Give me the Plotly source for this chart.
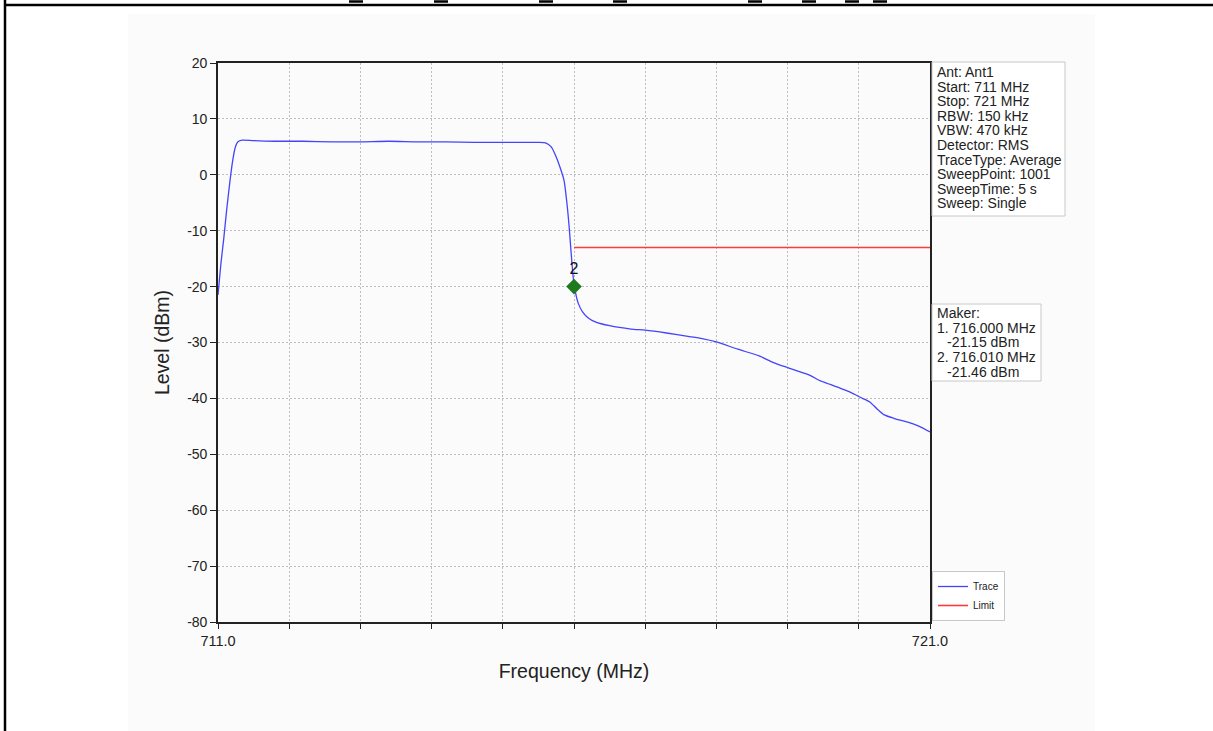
import plotly.graph_objects as go

# ---- data ----
trace_freq = [711.00, 711.04, 711.08, 711.12, 711.16, 711.20, 711.24, 711.28, 711.34,
              711.5, 711.8, 712.2, 712.6, 713.0, 713.4, 713.8, 714.2, 714.6, 715.0,
              715.3, 715.5, 715.6, 715.68, 715.74, 715.80, 715.86, 715.90, 715.93,
              715.96, 715.99, 716.02, 716.06, 716.12, 716.20, 716.30, 716.50, 716.80,
              717.00, 717.30, 717.60, 717.80, 718.00, 718.30, 718.60, 718.80, 719.00,
              719.30, 719.45, 719.60, 719.90, 720.02, 720.15, 720.25, 720.35, 720.50,
              720.58, 720.70, 720.85, 721.00]
trace_level = [-21.5, -16.0, -11.5, -6.5, -2.0, 2.0, 4.8, 5.9, 6.2,
               6.1, 6.0, 6.0, 5.9, 5.9, 6.0, 5.9, 5.9, 5.8, 5.8,
               5.8, 5.8, 5.7, 5.0, 3.5, 1.5, -1.0, -5.0, -9.0,
               -14.0, -18.5, -21.0, -23.0, -24.5, -25.6, -26.3, -27.0, -27.6,
               -27.8, -28.3, -28.9, -29.3, -29.9, -31.2, -32.4, -33.6, -34.5,
               -35.8, -36.8, -37.5, -39.0, -39.8, -40.6, -41.8, -42.9, -43.6,
               -43.9, -44.3, -45.0, -46.0]

limit_freq = [716.0, 721.0]
limit_level = [-13.0, -13.0]

marker_freq = [716.0]
marker_level = [-20.0]
marker_label = ["2"]

y_ticks = [20, 10, 0, -10, -20, -30, -40, -50, -60, -70, -80]
y_tick_text = ["20", "10", "0", "-10", "-20", "-30", "-40", "-50", "-60", "-70", "-80"]
x_ticks = [711, 712, 713, 714, 715, 716, 717, 718, 719, 720, 721]
x_tick_text = ["711.0", "", "", "", "", "", "", "", "", "", "721.0"]

info_lines = ["Ant: Ant1", "Start: 711 MHz", "Stop: 721 MHz", "RBW: 150 kHz",
              "VBW: 470 kHz", "Detector: RMS", "TraceType: Average",
              "SweepPoint: 1001", "SweepTime: 5 s", "Sweep: Single"]
marker_lines = ["Maker:", "1. 716.000 MHz", "-21.15 dBm",
                "2. 716.010 MHz", "-21.46 dBm"]
marker_indent = [0, 0, 1, 0, 1]

FONT = "Liberation Sans, Arial, sans-serif"

W, H = 1213, 731
L, R, T, B = 218, 930, 63, 622


def px(xp):
    return (xp - L) / (R - L)


def py(yp):
    return (B - yp) / (B - T)


fig = go.Figure()
fig.add_trace(go.Scatter(x=trace_freq, y=trace_level, mode="lines", name="Trace",
                         line=dict(color="#4444fa", width=1.3, shape="spline", smoothing=0.6)))
fig.add_trace(go.Scatter(x=limit_freq, y=limit_level, mode="lines", name="Limit",
                         line=dict(color="#ff3a3a", width=1.6)))
fig.add_trace(go.Scatter(x=marker_freq, y=marker_level, mode="markers+text",
                         text=marker_label, textposition="top center",
                         textfont=dict(family=FONT, size=16, color="#111"),
                         marker=dict(symbol="diamond", size=12, color="#1f7a1f"),
                         showlegend=False, cliponaxis=False))

shapes = []
# faint background panel of the original picture
shapes.append(dict(type="rect", xref="paper", yref="paper",
                   x0=px(128), x1=px(1095), y0=py(731), y1=py(14),
                   fillcolor="#fbfbfb", line=dict(width=0), layer="below"))
# page frame lines
shapes.append(dict(type="line", xref="paper", yref="paper",
                   x0=px(4), x1=px(1213), y0=py(5), y1=py(5),
                   line=dict(color="black", width=2.5)))
shapes.append(dict(type="line", xref="paper", yref="paper",
                   x0=px(5), x1=px(5), y0=py(0), y1=py(731),
                   line=dict(color="black", width=2.5)))
# clipped title underscores at very top
for xc in [356, 441, 546, 620, 755, 809, 852, 880]:
    shapes.append(dict(type="line", xref="paper", yref="paper",
                       x0=px(xc - 7), x1=px(xc + 7), y0=py(1.5), y1=py(1.5),
                       line=dict(color="black", width=2.5)))
# info boxes
shapes.append(dict(type="rect", xref="paper", yref="paper",
                   x0=px(932), x1=px(1065), y0=py(216), y1=py(62),
                   fillcolor="white", line=dict(color="#c8c8c8", width=1)))
shapes.append(dict(type="rect", xref="paper", yref="paper",
                   x0=px(932), x1=px(1041), y0=py(381), y1=py(304),
                   fillcolor="white", line=dict(color="#c8c8c8", width=1)))

annotations = []
for i, line in enumerate(info_lines):
    annotations.append(dict(xref="paper", yref="paper", x=px(935), y=py(72 + i * 14.6),
                            xanchor="left", yanchor="middle", showarrow=False, text=line,
                            font=dict(family=FONT, size=14, color="#222")))
for i, line in enumerate(marker_lines):
    annotations.append(dict(xref="paper", yref="paper",
                            x=px(935 + 10 * marker_indent[i]), y=py(313 + i * 14.7),
                            xanchor="left", yanchor="middle", showarrow=False, text=line,
                            font=dict(family=FONT, size=14, color="#222")))

fig.update_layout(
    width=W, height=H,
    margin=dict(l=L, r=W - R, t=T, b=H - B),
    paper_bgcolor="white", plot_bgcolor="white",
    font=dict(family=FONT, color="#222"),
    shapes=shapes, annotations=annotations,
    legend=dict(x=px(932), y=py(621), xanchor="left", yanchor="bottom",
                bordercolor="#c8c8c8", borderwidth=1, bgcolor="white",
                font=dict(family=FONT, size=10, color="#222"),
                itemwidth=30, tracegroupgap=0),
    showlegend=True,
)
fig.update_xaxes(range=[711, 721], tickmode="array", tickvals=x_ticks, ticktext=x_tick_text,
                 showgrid=True, gridcolor="#bdbdbd", griddash="2px,2px", gridwidth=1,
                 showline=True, linecolor="#222", linewidth=1.6, mirror=True,
                 ticks="outside", ticklen=5, tickcolor="#222",
                 tickfont=dict(family=FONT, size=14.5, color="#222"),
                 title=dict(text="Frequency (MHz)", font=dict(family=FONT, size=19.5, color="#222"),
                            standoff=16),
                 zeroline=False)
fig.update_yaxes(range=[-80, 20], tickmode="array", tickvals=y_ticks, ticktext=y_tick_text,
                 showgrid=True, gridcolor="#bdbdbd", griddash="2px,2px", gridwidth=1,
                 showline=True, linecolor="#222", linewidth=1.6, mirror=True,
                 ticks="outside", ticklen=6, tickcolor="#222",
                 tickfont=dict(family=FONT, size=14, color="#222"),
                 title=dict(text="Level (dBm)", font=dict(family=FONT, size=19.5, color="#222"),
                            standoff=12),
                 zeroline=False)

fig.write_html("out.html",
               config={"displayModeBar": False},
               post_script="document.body.style.margin='0px';"
                           "document.documentElement.style.overflow='hidden';"
                           "document.body.style.overflow='hidden';")
